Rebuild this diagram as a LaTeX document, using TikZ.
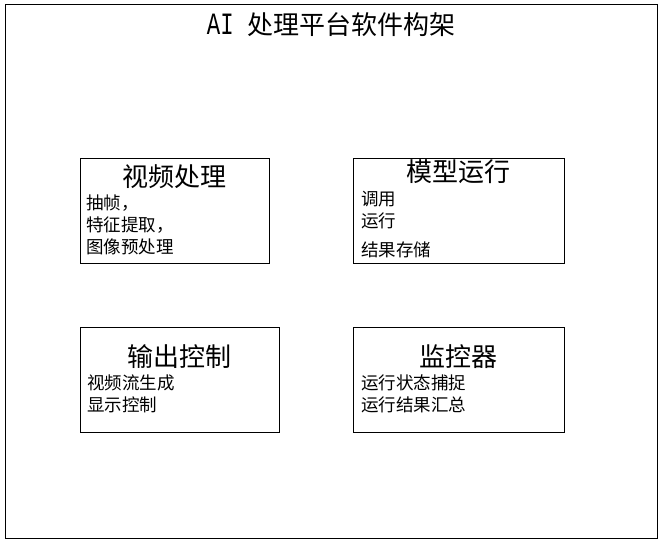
\documentclass[tikz,border=0pt]{standalone}
\usepackage{fontspec}
\setmainfont{Noto Sans CJK SC}
\newfontfamily\latinmono{Liberation Mono}
\usetikzlibrary{positioning}

\begin{document}
\begin{tikzpicture}[
  x=1pt, y=-1pt,
  modbox/.style={draw, line width=1pt, rectangle, minimum height=105pt, inner sep=0pt},
  headtext/.style={font=\fontsize{26}{26}\selectfont, inner sep=0pt},
  itemtext/.style={font=\fontsize{17.5}{17.5}\selectfont, inner sep=0pt, anchor=west},
]
\useasboundingbox (0,0) rectangle (665,547);
\draw[line width=1pt] (5.5,4.5) rectangle (657,538);
\node[headtext] (title) at (331,25) {\scalebox{0.72}[1]{\latinmono\fontsize{31}{31}\selectfont AI }处理平台软件构架};

% four modules
\node[modbox, minimum width=189pt] (video) at (174.5,210.5) {};
\node[modbox, minimum width=211pt] (model) at (458.5,210.5) {};
\node[modbox, minimum width=199pt] (output) at (179.5,379.5) {};
\node[modbox, minimum width=211pt] (monitor) at (458.5,379.5) {};

\node[headtext] (videohead) at (video.center |- 0,177) {视频处理};
\node[itemtext] (video1) at (86,203) {抽帧，};
\node[itemtext] (video2) at (86,225) {特征提取，};
\node[itemtext] (video3) at (86,247) {图像预处理};

\node[headtext] (modelhead) at (model.center |- 0,172) {模型运行};
\node[itemtext] (model1) at (361,199) {调用};
\node[itemtext] (model2) at (361,221) {运行};
\node[itemtext] (model3) at (361,250) {结果存储};

\node[headtext] (outputhead) at (output.center |- 0,357) {输出控制};
\node[itemtext] (output1) at (87,383) {视频流生成};
\node[itemtext] (output2) at (87,405) {显示控制};

\node[headtext] (monitorhead) at (monitor.center |- 0,357) {监控器};
\node[itemtext] (monitor1) at (361,383) {运行状态捕捉};
\node[itemtext] (monitor2) at (361,405) {运行结果汇总};
\end{tikzpicture}
\end{document}
